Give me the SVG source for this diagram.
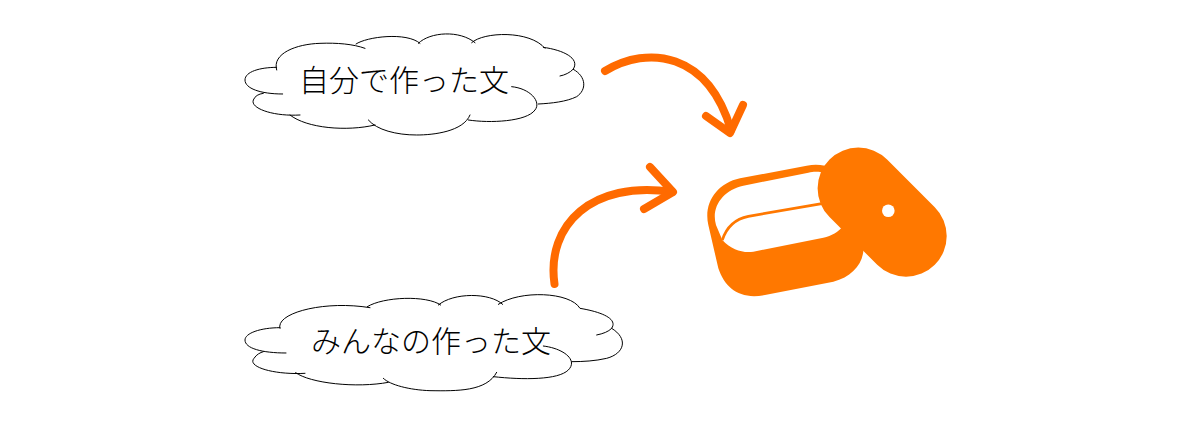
<svg xmlns="http://www.w3.org/2000/svg" width="1188" height="427" viewBox="0 0 1188 427">
<style>
.cloud{fill:none;stroke:#000;stroke-width:3;stroke-linecap:round}
.label{font-family:"Noto Sans CJK JP","Noto Sans",sans-serif;font-size:30px;font-weight:300;fill:#000}
.arrow{fill:none;stroke:#ff6a00;stroke-width:8;stroke-linecap:round;stroke-linejoin:round}
.box{fill:#ff7800}
</style>
<rect width="1188" height="427" fill="#fff"/>
<g id="cloud-own">
<path class="cloud" transform="translate(230 20) scale(.33333)" d="M158,222C90,222 45,205 45,180C45,155 90,142 140,142M140,150C125,100 200,72 270,70C320,68 370,72 405,85M378,72C410,50 530,35 570,70M565,70C600,35 690,30 735,68M725,68C760,35 900,30 945,85M940,82C1000,90 1050,115 1030,147C1020,158 1005,165 990,168M1030,148C1070,170 1070,210 1040,230C1010,245 965,250 925,252M845,200C900,205 935,245 915,270C890,305 780,310 715,300M720,285C700,335 610,345 560,345C500,345 440,330 415,300M435,315C350,335 230,325 180,285M210,285C130,290 60,265 70,240C75,228 85,222 100,220"/>
<text class="label" x="299" y="91">自分で作った文</text>
</g>
<g id="cloud-everyone">
<path class="cloud" transform="translate(230 285) scale(.33333)" d="M168,204C95,204 45,190 45,165C45,145 90,128 150,128M150,130C135,85 280,45 420,68M412,65C460,35 590,30 632,60M625,60C670,22 780,22 818,58M805,58C870,15 1020,20 1050,70C1110,80 1165,100 1145,130C1135,140 1120,146 1100,150M1145,130C1195,160 1185,205 1130,220C1095,228 1060,230 1025,230M940,183C1000,190 1045,225 1015,255C985,285 880,285 790,275M800,262C770,320 680,318 600,317C540,315 480,300 460,280M475,292C380,310 240,295 197,263M225,265C130,270 50,245 72,220C80,208 90,203 100,200"/>
<text class="label" x="311" y="352">みんなの作った文</text>
</g>
<g id="lunchbox">
<g transform="translate(690 135) scale(.33333)">
<path class="box" d="M405,92C385,88 370,88 350,92L150,130C80,145 40,205 55,270L85,400C105,460 150,495 225,480L430,440C490,425 525,380 520,330L520,200Z"/>
<path fill="#fff" d="M395,112C380,110 370,110 355,113L160,152C100,165 62,215 78,270L97,315C125,345 160,355 190,350L400,308C425,303 445,290 458,275L420,180Z"/>
<path fill="none" stroke="#ff7800" stroke-width="8" d="M97,315C110,275 135,252 175,244L400,205"/>
</g>
<path fill="none" stroke="#ff7800" stroke-width="81.4" stroke-linecap="round" d="M858.3,188.3L906,236"/>
<circle cx="888.3" cy="210.7" r="6.3" fill="#fff"/>
</g>
<g id="connectors">
<path class="arrow" d="M605,71C648,45 708,52 731,130"/>
<path class="arrow" d="M706,116L730,133L743,105"/>
<path class="arrow" d="M554.500,284C546,225 592,180 672,192"/>
<path class="arrow" d="M650,167L673,192L644,209"/>
</g>
</svg>
